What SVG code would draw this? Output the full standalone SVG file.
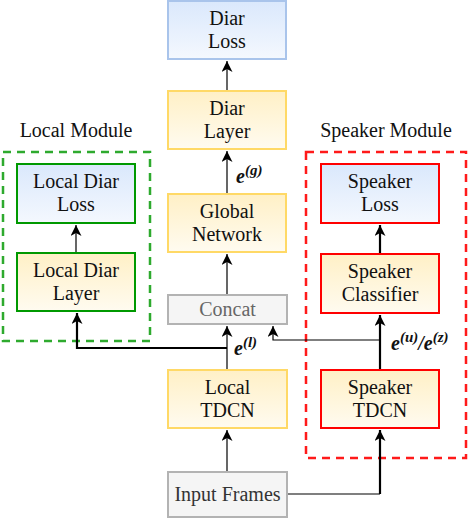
<svg xmlns="http://www.w3.org/2000/svg" width="470" height="518" viewBox="0 0 470 518">
<style>
.blue{fill:url(#gb);stroke:#a9c4eb;stroke-width:2}
.yel{fill:url(#gy);stroke:#ffd966;stroke-width:2}
.gry{fill:#f5f5f5;stroke:#b3b3b3;stroke-width:2}
.cn{fill:none;stroke:#000;stroke-width:1.2}
.thick{stroke-width:2.2}
</style>
<defs>
<linearGradient id="gb" x1="0" y1="0" x2="0" y2="1"><stop offset="0" stop-color="#dae8fc"/><stop offset="1" stop-color="#f4f8fe"/></linearGradient>
<linearGradient id="gy" x1="0" y1="0" x2="0" y2="1"><stop offset="0" stop-color="#fff0c6"/><stop offset="1" stop-color="#fffbf0"/></linearGradient>
<marker id="ah" markerUnits="userSpaceOnUse" markerWidth="13" markerHeight="11" refX="11" refY="5.5" orient="auto"><path d="M0,0 L11,5.5 L0,11 L3,5.5 z" fill="#000"/></marker>
</defs>

<g font-family="Liberation Serif, Times New Roman, serif" font-size="20" fill="#111" text-anchor="middle">
<g id="local-module">
<rect x="3" y="152" width="147" height="189" fill="none" stroke="#2eaa2e" stroke-width="2.5" stroke-dasharray="8,6"/>
<text x="76" y="137">Local Module</text>
</g>
<g id="speaker-module">
<rect x="306" y="152" width="160" height="306" fill="none" stroke="#ff1a1a" stroke-width="2.5" stroke-dasharray="8,6"/>
<text x="386" y="137">Speaker Module</text>
</g>

<g id="connectors">
<path class="cn" d="M227,90 V61" marker-end="url(#ah)"/>
<path class="cn" d="M227,193 V151" marker-end="url(#ah)"/>
<path class="cn" d="M227,294 V254" marker-end="url(#ah)"/>
<path class="cn" d="M227,370 V326" marker-end="url(#ah)"/>
<path class="cn" d="M227,472 V430" marker-end="url(#ah)"/>
<path class="cn thick" d="M227,348 H77 V313" marker-end="url(#ah)"/>
<path class="cn" d="M76,253 V225" marker-end="url(#ah)"/>
<path class="cn" d="M287,494 H380"/>
<path class="cn thick" d="M380,494 V430" marker-end="url(#ah)"/>
<path class="cn thick" d="M380,370 V315" marker-end="url(#ah)"/>
<path class="cn thick" d="M380,254 V225" marker-end="url(#ah)"/>
<path class="cn" d="M380,340 H273 V326" marker-end="url(#ah)"/>
</g>

<g id="diar-loss"><rect class="blue" x="168" y="1" width="118" height="58"/><text x="227" y="25">Diar</text><text x="227" y="48">Loss</text></g>
<g id="diar-layer"><rect class="yel" x="168" y="91" width="118" height="58"/><text x="227" y="115">Diar</text><text x="227" y="138">Layer</text></g>
<g id="global-network"><rect class="yel" x="168" y="194" width="118" height="58"/><text x="227" y="218">Global</text><text x="227" y="241">Network</text></g>
<g id="concat"><rect class="gry" x="168" y="295" width="119" height="29"/><text x="227.5" y="316" fill="#666">Concat</text></g>
<g id="local-tdcn"><rect class="yel" x="168" y="370" width="119" height="58"/><text x="227.5" y="394">Local</text><text x="227.5" y="417">TDCN</text></g>
<g id="input-frames"><rect class="gry" x="168" y="472" width="119" height="45"/><text x="227.5" y="501" fill="#333">Input Frames</text></g>

<g id="local-diar-loss"><rect class="blue" x="17" y="164" width="118" height="59" style="stroke:#009900"/><text x="76" y="188">Local Diar</text><text x="76" y="211">Loss</text></g>
<g id="local-diar-layer"><rect class="yel" x="17" y="253" width="118" height="58" style="stroke:#009900"/><text x="76" y="277">Local Diar</text><text x="76" y="300">Layer</text></g>

<g id="speaker-loss"><rect class="blue" x="321" y="164" width="118" height="59" style="stroke:#ff0000"/><text x="380" y="188">Speaker</text><text x="380" y="211">Loss</text></g>
<g id="speaker-classifier"><rect class="yel" x="321" y="254" width="118" height="59" style="stroke:#ff0000"/><text x="380" y="278">Speaker</text><text x="380" y="301">Classifier</text></g>
<g id="speaker-tdcn"><rect class="yel" x="321" y="370" width="118" height="58" style="stroke:#ff0000"/><text x="380" y="394">Speaker</text><text x="380" y="417">TDCN</text></g>

<g id="labels" font-weight="bold" font-style="italic" text-anchor="start">
<text x="236" y="183">e<tspan font-size="15" dy="-8">(g)</tspan></text>
<text x="234" y="355">e<tspan font-size="15" dy="-8">(l)</tspan></text>
<text x="391" y="350">e<tspan font-size="15" dy="-8">(u)</tspan><tspan dy="8">/e</tspan><tspan font-size="15" dy="-8">(z)</tspan></text>
</g>
</g>
</svg>
